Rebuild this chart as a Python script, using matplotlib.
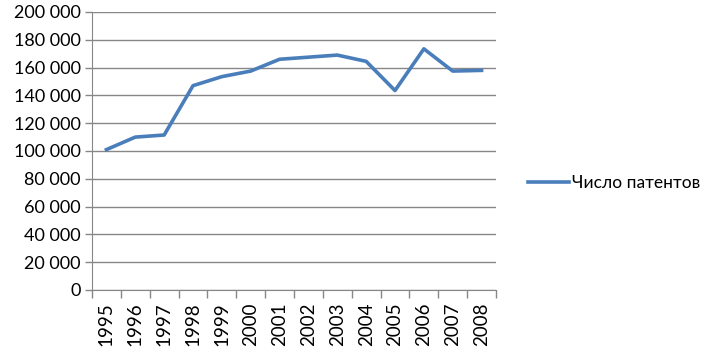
import numpy as np
import matplotlib
matplotlib.use("Agg")
import matplotlib.pyplot as plt
from matplotlib.ticker import FuncFormatter, FixedLocator

# --- Data ---
years = ["1995", "1996", "1997", "1998", "1999", "2000", "2001",
         "2002", "2003", "2004", "2005", "2006", "2007", "2008"]
patents = [101000, 110000, 111500, 147000, 153500, 157500, 166000,
           167500, 169000, 164500, 143500, 173500, 157500, 158000]
series_name = "Число патентов"

plt.rcParams["font.family"] = ["Lato", "DejaVu Sans"]
grey = "#878787"

fig = plt.figure(figsize=(7.12, 3.6), dpi=100)
ax = fig.add_axes([92 / 712, 70 / 360, 404 / 712, 278 / 360])

x = np.arange(len(years))
ax.plot(x, patents, color="#4A7EBB", linewidth=2.6, solid_joinstyle="round",
        label=series_name)

ax.set_xlim(-0.5, len(years) - 0.5)
ax.set_ylim(0, 200000)
ax.set_yticks(np.arange(0, 200001, 20000))
ax.yaxis.set_major_formatter(FuncFormatter(lambda v, p: f"{int(v):,}".replace(",", " ")))
ax.yaxis.grid(True, color=grey, linewidth=1)
ax.set_axisbelow(True)

# category labels at centres, tick marks between categories
ax.set_xticks(x)
ax.set_xticklabels(years, rotation=90)
ax.tick_params(axis="x", length=0, pad=9, labelsize=13.5)
ax.xaxis.set_minor_locator(FixedLocator(np.arange(-0.5, len(years), 1)))
ax.tick_params(axis="x", which="minor", length=6, color=grey, width=1)
ax.tick_params(axis="y", length=5, color=grey, width=1, labelsize=13, pad=3)

for side in ["top", "right"]:
    ax.spines[side].set_visible(False)
for side in ["left", "bottom"]:
    ax.spines[side].set_color(grey)

fig.legend(loc="center left", bbox_to_anchor=(512 / 712, 1 - 183 / 360),
           frameon=False, fontsize=12.5, handlelength=2.4, handletextpad=0.15)

fig.savefig("out.png", dpi=100)
